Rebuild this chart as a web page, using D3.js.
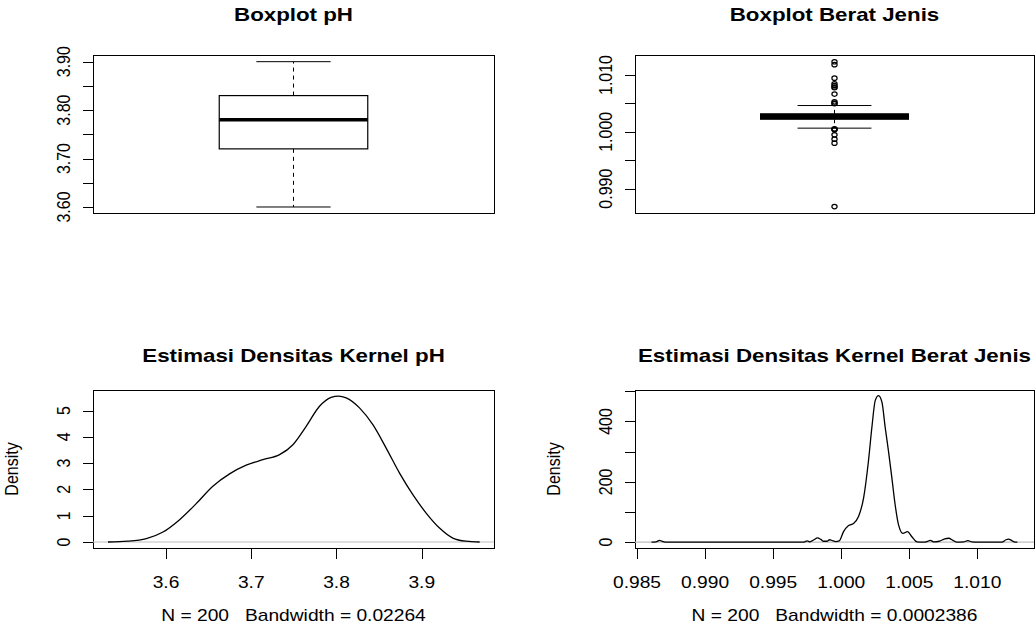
<!DOCTYPE html>
<html>
<head>
<meta charset="utf-8">
<script src="https://cdn.jsdelivr.net/npm/d3@7"></script>
<style>
  body { margin: 0; background: #fff; }
  svg { display: block; }
  text { font-family: "Liberation Sans", Arial, Helvetica, sans-serif; fill: #000; white-space: pre; }
</style>
</head>
<body>
<svg id="chart" width="1035" height="626"></svg>
<script>
// ---- values ----
// boxplot pH: lower whisker, Q1, median, Q3, upper whisker
const phStats = [3.60, 3.72, 3.78, 3.83, 3.90]
const phTicks = [3.60, 3.65, 3.70, 3.75, 3.80, 3.85, 3.90]
const phTickLabels = ['3.60', '', '3.70', '', '3.80', '', '3.90']

// boxplot berat jenis
const bjStats = [1.00065, 1.00222, 1.0027, 1.00317, 1.00463]
const bjOutliers = [1.01232, 1.01182, 1.00945, 1.00845, 1.00815, 1.00790, 1.00775, 1.00664,
                    1.00528, 1.00505, 1.00493, 1.00053, 1.00044, 1.00035, 0.99947, 0.99871,
                    0.99801, 0.98685]
const bjTicks = [0.990, 0.995, 1.000, 1.005, 1.010]
const bjTickLabels = ['0.990', '', '1.000', '', '1.010']

// kernel density pH
const phDensX = [3.532, 3.555, 3.577, 3.5965, 3.616, 3.6355, 3.655, 3.6746, 3.6941, 3.7137,
                 3.7333, 3.7489, 3.7645, 3.7801, 3.7938, 3.8024, 3.8114, 3.827, 3.8427, 3.8583,
                 3.874, 3.8896, 3.9052, 3.9209, 3.9365, 3.952, 3.968]
const phDensY = [0.0, 0.03, 0.13, 0.38, 0.85, 1.46, 2.12, 2.59, 2.92, 3.13,
                 3.32, 3.70, 4.40, 5.16, 5.50, 5.55, 5.48, 5.10, 4.46, 3.57,
                 2.62, 1.80, 1.10, 0.53, 0.15, 0.03, 0.0]
const phXTicks = [3.6, 3.7, 3.8, 3.9]
const phYTicks = [0, 1, 2, 3, 4, 5]

// kernel density berat jenis
const bjDensX = [0.98606, 0.98640, 0.98665, 0.98690, 0.98720, 0.99720, 0.99750, 0.99770, 0.99800, 0.99825,
                 0.99850, 0.99870, 0.99895, 0.99915, 0.99935, 0.99960, 0.99985, 1.00017, 1.00054, 1.00090,
                 1.00127, 1.00164, 1.00200, 1.00225, 1.00250, 1.00274, 1.00299, 1.00323, 1.00347, 1.00372,
                 1.00396, 1.00421, 1.00453, 1.00487, 1.00519, 1.00556, 1.00600, 1.00630, 1.00655, 1.00680,
                 1.00720, 1.00760, 1.00790, 1.00820, 1.00850, 1.00900, 1.00930, 1.00960, 1.01000, 1.01180,
                 1.01210, 1.01230, 1.01250, 1.01270, 1.01294]
const bjDensY = [0, 1, 6, 2, 0, 0, 4, 1, 8, 14,
                 9, 3, 3, 8, 5, 2, 4, 35, 55, 62,
                 85, 146, 269, 380, 470, 486, 464, 380, 302, 213,
                 124, 57, 29, 35, 18, 1, 0, 2, 6, 1,
                 3, 11, 13, 6, 0, 1, 5, 1, 0, 0,
                 8, 10, 6, 1, 0]
const bjXTicks = [0.985, 0.990, 0.995, 1.000, 1.005, 1.010]
const bjYTicks = [0, 100, 200, 300, 400, 500]
const bjYTickLabels = ['0', '', '200', '', '400', '']

const titles = ['Boxplot pH', 'Boxplot Berat Jenis', 'Estimasi Densitas Kernel pH', 'Estimasi Densitas Kernel Berat Jenis']
const subs = ['N = 200   Bandwidth = 0.02264', 'N = 200   Bandwidth = 0.0002386']

// ---- layout ----
const SX = 1.2          // the picture is stretched sideways, text too
const FS = 16, TFS = 18.6
const TICK = 10
const svg = d3.select('#chart')

const panels = [
  { x0: 93,  x1: 494,  y0: 55,  y1: 213, ty: 21 },
  { x0: 635, x1: 1034, y0: 55,  y1: 213, ty: 21 },
  { x0: 93,  x1: 494,  y0: 390, y1: 548, ty: 362 },
  { x0: 635, x1: 1034, y0: 390, y1: 548, ty: 362 }
]

function txt(g, x, y, s, rot, size, bold) {
  g.append('text')
    .attr('transform', `translate(${x},${y}) scale(${SX},1)` + (rot ? ' rotate(-90)' : ''))
    .attr('text-anchor', 'middle')
    .attr('dy', rot ? '0.36em' : null)
    .attr('xml:space', 'preserve')
    .style('font-size', size + 'px')
    .style('font-weight', bold ? 'bold' : 'normal')
    .text(s)
}

function frame(p, i) {
  const g = svg.append('g')
  g.append('rect')
    .attr('x', p.x0 + 0.5).attr('y', p.y0 + 0.5)
    .attr('width', p.x1 - p.x0).attr('height', p.y1 - p.y0)
    .attr('fill', 'none').attr('stroke', '#000').attr('stroke-width', 1)
  txt(g, (p.x0 + p.x1) / 2, p.ty, titles[i], false, TFS, true)
  return g
}

function yAxis(g, p, y, ticks, labels) {
  g.selectAll('line.yt').data(ticks).enter().append('line')
    .attr('x1', p.x0 - TICK).attr('x2', p.x0)
    .attr('y1', d => Math.round(y(d)) + 0.5).attr('y2', d => Math.round(y(d)) + 0.5)
    .attr('stroke', '#000')
  ticks.forEach((t, k) => { if (labels[k]) txt(g, p.x0 - 30, y(t), labels[k], true, FS, false) })
}

function xAxis(g, p, x, ticks, fmt) {
  g.selectAll('line.xt').data(ticks).enter().append('line')
    .attr('x1', d => Math.round(x(d)) + 0.5).attr('x2', d => Math.round(x(d)) + 0.5)
    .attr('y1', p.y1).attr('y2', p.y1 + TICK + 1)
    .attr('stroke', '#000')
  ticks.forEach(t => txt(g, x(t), p.y1 + 40, fmt(t), false, FS, false))
}

function boxplot(g, p, stats, outliers, yDomain, ticks, labels, medWidth) {
  const x = d3.scaleLinear().domain([0.46, 1.54]).range([p.x0, p.x1])
  const y = d3.scaleLinear().domain(yDomain).range([p.y1, p.y0])
  const [lo, q1, med, q3, hi] = stats
  const c = x(1)
  // whiskers
  g.append('line').attr('x1', c).attr('x2', c).attr('y1', y(q3)).attr('y2', y(hi))
    .attr('stroke', '#000').attr('stroke-dasharray', '4,4')
  g.append('line').attr('x1', c).attr('x2', c).attr('y1', y(q1)).attr('y2', y(lo))
    .attr('stroke', '#000').attr('stroke-dasharray', '4,4')
  ;[lo, hi].forEach(v => g.append('line')
    .attr('x1', x(0.9)).attr('x2', x(1.1)).attr('y1', y(v)).attr('y2', y(v))
    .attr('stroke', '#000'))
  // box
  g.append('rect').attr('x', x(0.8)).attr('y', y(q3))
    .attr('width', x(1.2) - x(0.8)).attr('height', y(q1) - y(q3))
    .attr('fill', 'none').attr('stroke', '#000').attr('stroke-width', 1.2)
  g.append('line').attr('x1', x(0.8)).attr('x2', x(1.2)).attr('y1', y(med)).attr('y2', y(med))
    .attr('stroke', '#000').attr('stroke-width', medWidth)
  g.selectAll('ellipse').data(outliers).enter().append('ellipse')
    .attr('cx', c).attr('cy', d => y(d)).attr('rx', 2.6).attr('ry', 2.2)
    .attr('fill', 'none').attr('stroke', '#000').attr('stroke-width', 1.2)
  yAxis(g, p, y, ticks, labels)
}

function density(g, p, xs, ys, xDomain, yDomain, xTicks, yTicks, yLabels, fmt, sub) {
  const x = d3.scaleLinear().domain(xDomain).range([p.x0, p.x1])
  const y = d3.scaleLinear().domain(yDomain).range([p.y1, p.y0])
  g.append('line').attr('x1', p.x0).attr('x2', p.x1)
    .attr('y1', y(0)).attr('y2', y(0)).attr('stroke', '#bebebe').attr('stroke-width', 1.2)
  const line = d3.line().x(d => x(d[0])).y(d => y(d[1])).curve(d3.curveMonotoneX)
  g.append('path').datum(xs.map((v, k) => [v, ys[k]]))
    .attr('d', line).attr('fill', 'none').attr('stroke', '#000').attr('stroke-width', 1.3)
  yAxis(g, p, y, yTicks, yLabels)
  xAxis(g, p, x, xTicks, fmt)
  txt(g, p.x0 - 82, (p.y0 + p.y1) / 2, 'Density', true, FS, false)
  txt(g, (p.x0 + p.x1) / 2, 621, sub, false, FS, false)
}

const g0 = frame(panels[0], 0)
boxplot(g0, panels[0], phStats, [], [3.5876, 3.9138], phTicks, phTickLabels, 3.6)
const g1 = frame(panels[1], 1)
boxplot(g1, panels[1], bjStats, bjOutliers, [0.98572, 1.01352], bjTicks, bjTickLabels, 5)
const g2 = frame(panels[2], 2)
density(g2, panels[2], phDensX, phDensY, [3.5144, 3.9848], [-0.228, 5.78],
        phXTicks, phYTicks, phYTicks.map(String), d3.format('.1f'), subs[0])
const g3 = frame(panels[3], 3)
density(g3, panels[3], bjDensX, bjDensY, [0.98485, 1.01416], [-19.4, 504.4],
        bjXTicks, bjYTicks, bjYTickLabels, d3.format('.3f'), subs[1])
</script>
</body>
</html>
